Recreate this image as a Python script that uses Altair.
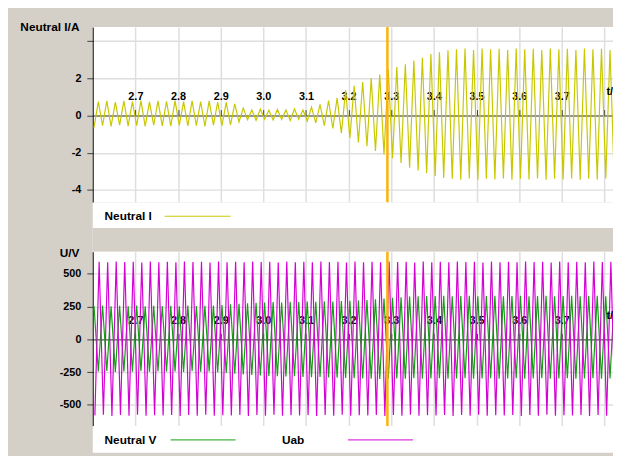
import altair as alt
import pandas as pd

# ---------------- data ----------------
T_DOMAIN = [2.6, 3.82]
X_TICKS = [2.7, 2.8, 2.9, 3.0, 3.1, 3.2, 3.3, 3.4, 3.5, 3.6, 3.7, 3.8]
X_UNIT = "t/s"
CURSOR_T = 3.291
HALF_PERIOD = 0.01  # 50 Hz: one extreme (peak or trough) every 10 ms

# Neutral current (A): extremes of each cycle
I_DOMAIN = [-4.67, 4.75]
I_TICKS = [-4, -2, 0, 2, 4]
i_first_t = 2.603  # time of first trough
i_troughs = [-0.65, -0.55, -0.58, -0.52, -0.57, -0.54, -0.58, -0.52, -0.56, -0.57,
             -0.53, -0.56, -0.54, -0.58, -0.52, -0.55, -0.50, -0.35, -0.22, -0.26,
             -0.20, -0.24, -0.22, -0.27, -0.20, -0.30, -0.40, -0.55, -0.70, -0.95,
             -1.20, -1.45, -1.65, -1.90, -2.10, -2.30, -2.55, -2.80, -2.95, -3.10,
             -3.25, -3.35, -3.40, -3.45, -3.38, -3.45, -3.40, -3.44, -3.38, -3.45,
             -3.40, -3.44, -3.38, -3.45, -3.40, -3.44, -3.38, -3.45, -3.40, -3.44,
             -3.38, -3.45]
i_peaks = [0.74, 0.78, 0.72, 0.79, 0.75, 0.80, 0.73, 0.78, 0.76, 0.80,
           0.74, 0.79, 0.75, 0.78, 0.72, 0.70, 0.62, 0.40, 0.30, 0.34,
           0.28, 0.32, 0.30, 0.35, 0.30, 0.45, 0.60, 0.80, 0.95, 1.35,
           1.60, 1.80, 2.00, 2.20, 2.45, 2.60, 2.75, 2.95, 3.10, 3.30,
           3.40, 3.50, 3.55, 3.60, 3.52, 3.60, 3.55, 3.58, 3.52, 3.60,
           3.55, 3.58, 3.52, 3.60, 3.55, 3.58, 3.52, 3.60, 3.55, 3.58,
           3.52, 3.60]

# Voltages (V)
U_DOMAIN = [-662, 669]
U_TICKS = [-500, -250, 0, 250, 500]
v_first_t = 2.603  # time of first Neutral V peak
v_peaks = [255, 258, 252, 256, 254, 258, 253, 257, 255, 256,
           252, 258, 254, 256, 258, 262, 268, 272, 276, 280,
           282, 284, 282, 286, 284, 288, 286, 290, 288, 292,
           294, 296, 300, 305, 312, 318, 322, 326, 328, 330,
           330, 332, 328, 330, 332, 328, 330, 332, 328, 330,
           332, 328, 330, 332, 328, 330, 332, 328, 330, 332,
           328, 330]
v_troughs = [-245, -242, -248, -244, -246, -242, -247, -243, -245, -244,
             -248, -242, -246, -244, -250, -256, -262, -268, -272, -276,
             -280, -282, -284, -282, -286, -288, -286, -290, -292, -294,
             -296, -298, -300, -302, -300, -298, -300, -296, -300, -298,
             -296, -300, -298, -296, -300, -298, -296, -300, -298, -296,
             -300, -298, -296, -300, -298, -296, -300, -298, -296, -300,
             -298, -296]
uab_first_t = 2.605  # time of first Uab trough
uab_troughs = [-580, -576, -584, -578, -582, -576, -583, -579, -581, -577,
               -584, -578, -582, -576, -583, -579, -581, -577, -584, -578,
               -582, -576, -583, -579, -581, -577, -584, -578, -582, -576,
               -583, -579, -581, -577, -584, -578, -582, -576, -583, -579,
               -581, -577, -584, -578, -582, -576, -583, -579, -581, -577,
               -584, -578, -582, -576, -583, -579, -581, -577, -584, -578,
               -582, -576]
uab_peaks = [592, 588, 595, 590, 593, 587, 594, 589, 592, 588,
             595, 590, 593, 587, 594, 589, 592, 588, 595, 590,
             593, 587, 594, 589, 592, 588, 595, 590, 593, 587,
             594, 589, 592, 588, 595, 590, 593, 587, 594, 589,
             592, 588, 595, 590, 593, 587, 594, 589, 592, 588,
             595, 590, 593, 587, 594, 589, 592, 588, 595, 590,
             593, 587]

SERIES_I = ["Neutral I"]
COLORS_I = ["#c8c800"]
SERIES_U = ["Neutral V", "Uab"]
COLORS_U = ["#10a010", "#d400d4"]

# ---------------- helpers ----------------
FONT = "Liberation Sans"
PLOT_W = 528
BG = "#d4d0c8"
TICK = 6
LABEL_PAD = 8


def extremes(first_t, first_vals, second_vals, name):
    rows = []
    j = 0
    for a, b in zip(first_vals, second_vals):
        rows.append({"t": first_t + j * HALF_PERIOD, "v": a, "series": name})
        j += 1
        rows.append({"t": first_t + j * HALF_PERIOD, "v": b, "series": name})
        j += 1
    return rows


df_i = pd.DataFrame(extremes(i_first_t, i_troughs, i_peaks, "Neutral I"))
df_u = pd.DataFrame(extremes(v_first_t, v_peaks, v_troughs, "Neutral V")
                    + extremes(uab_first_t, uab_troughs, uab_peaks, "Uab"))


def panel(df, series, colors, ydomain, yticks, ytitle, height, hide_vals, title_y):
    zero_px = height * ydomain[1] / (ydomain[1] - ydomain[0])
    hide = " || ".join(f"datum.value == {h}" for h in hide_vals) or "false"
    x = alt.X("t:Q",
              scale=alt.Scale(domain=T_DOMAIN, nice=False, zero=False),
              axis=alt.Axis(orient="top", offset=-zero_px, values=X_TICKS,
                            labelExpr="datum.value > 3.75 ? '' : format(datum.value, '.1f')",
                            title=None, grid=True, gridColor="#dedede", gridWidth=1.5,
                            domainColor="#404040", tickColor="#404040", tickSize=TICK,
                            labelPadding=LABEL_PAD, labelFont=FONT, labelFontSize=11,
                            labelFontWeight="bold", labelColor="black", labelFlush=False))
    y = alt.Y("v:Q",
              scale=alt.Scale(domain=ydomain, nice=False, zero=False),
              axis=alt.Axis(values=yticks,
                            labelExpr=f"({hide}) ? '' : '' + datum.value",
                            title=ytitle, titleAngle=0, titleAlign="right",
                            titleBaseline="alphabetic", titleX=-14, titleY=title_y,
                            titleFont=FONT, titleFontSize=12, titleFontWeight="bold",
                            titleColor="black",
                            grid=True, gridColor="#dedede", gridWidth=1.5,
                            domainColor="black", tickColor="#404040", tickSize=6,
                            labelPadding=6, labelFont=FONT, labelFontSize=11,
                            labelFontWeight="bold", labelColor="black", labelFlush=False))
    layers = []
    for s, c in zip(series, colors):
        layers.append(alt.Chart(df[df["series"] == s]).mark_line(
            clip=True, strokeWidth=1.2, color=c).encode(x=x, y=y))
    cursor = alt.Chart(pd.DataFrame({"t": [CURSOR_T]})).mark_rule(
        color="#ffb000", strokeWidth=2.5).encode(x=x)
    unit = alt.Chart(pd.DataFrame({"t": [X_TICKS[-1]], "v": [0], "label": [X_UNIT]})).mark_text(
        align="left", baseline="bottom", dx=2, dy=-(TICK + LABEL_PAD + 5), clip=True, font=FONT,
        fontSize=11, fontWeight="bold", color="black").encode(x=x, y=y, text="label:N")
    return alt.layer(*layers, cursor, unit).properties(width=PLOT_W, height=height)


def legend_strip(entries, height, gap=0):
    layers = []
    for name, color, tx, lx0, lx1 in entries:
        d = pd.DataFrame({"name": [name]})
        layers.append(alt.Chart(d).mark_text(align="left", baseline="alphabetic",
                                             font=FONT, fontSize=12, fontWeight="bold",
                                             color="black").encode(
            x=alt.value(tx), y=alt.value(18), text="name:N"))
        layers.append(alt.Chart(d).mark_rule(color=color, strokeWidth=1).encode(
            x=alt.value(lx0), x2=alt.value(lx1), y=alt.value(14)))
    if gap:
        # grey gap between this legend strip and the next panel
        layers.append(alt.Chart(pd.DataFrame({"k": [0]})).mark_rect(color=BG).encode(
            x=alt.value(0), x2=alt.value(PLOT_W),
            y=alt.value(height), y2=alt.value(height + gap)))
    return alt.layer(*layers).properties(width=PLOT_W, height=height + gap)


plot_i = panel(df_i, SERIES_I, COLORS_I, I_DOMAIN, I_TICKS, "Neutral I/A", 178, [4], 4)
strip_i = legend_strip([(SERIES_I[0], COLORS_I[0], 12, 73, 140)], 26, gap=24)
plot_u = panel(df_u, SERIES_U, COLORS_U, U_DOMAIN, U_TICKS, "U/V", 177, [], 5)
strip_u = legend_strip([(SERIES_U[0], COLORS_U[0], 12, 79, 145),
                        (SERIES_U[1], COLORS_U[1], 192, 259, 325)], 27)

chart = alt.vconcat(plot_i, strip_i, plot_u, strip_u, spacing=0, bounds="flush").properties(
    background=BG,
    padding={"left": 11, "top": 10, "right": 0, "bottom": 0},
    autosize=alt.AutoSizeParams(type="pad"),
).configure_view(fill="white", stroke=None)

chart.save("out.html", embed_options={"renderer": "svg", "actions": False})
